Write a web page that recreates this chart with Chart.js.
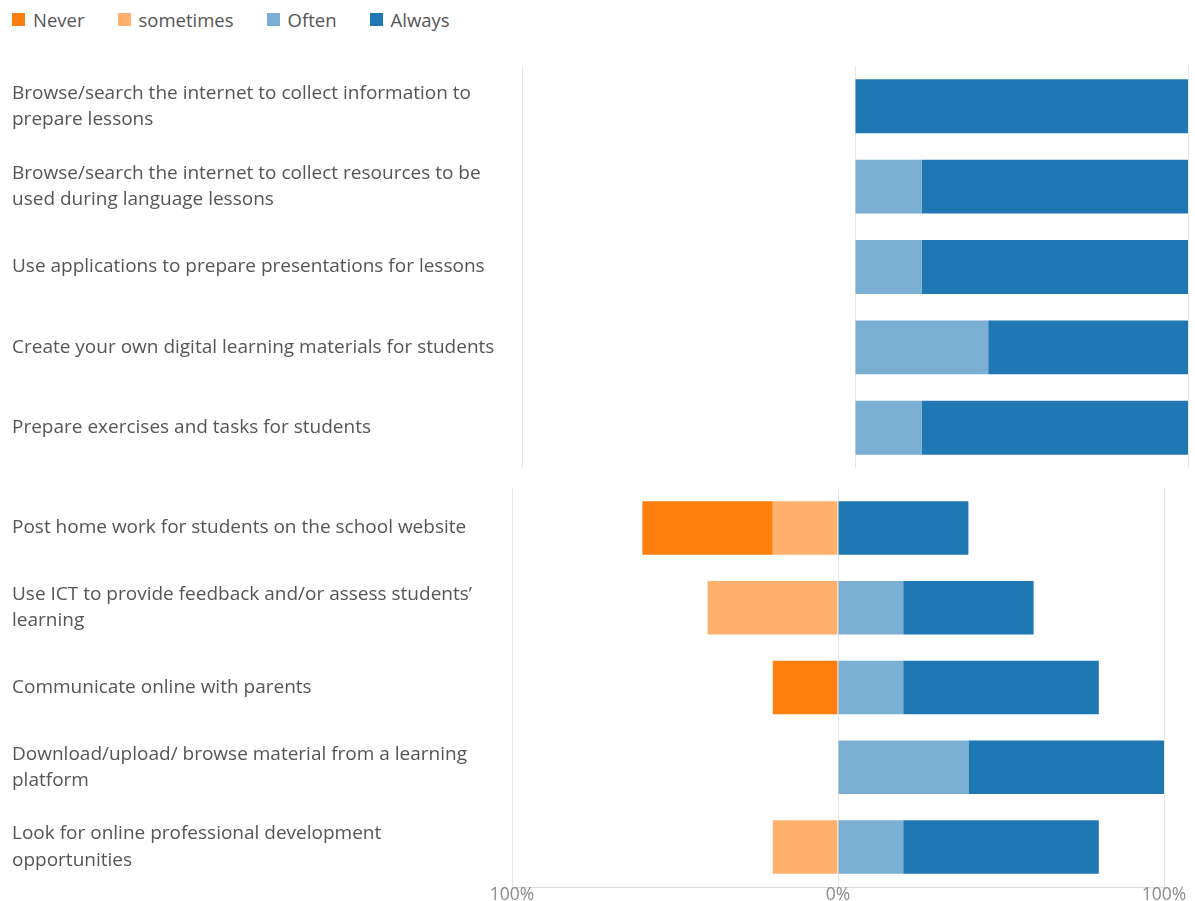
<!DOCTYPE html>
<html>
<head>
<meta charset="utf-8">
<script src="https://cdn.jsdelivr.net/npm/chart.js@4"></script>
<style>
    html, body { margin: 0; padding: 0; background: #fff; overflow: hidden; }
    body { width: 1195px; height: 901px; position: relative; font-family: "Open Sans", sans-serif; }
    #legend { position: absolute; left: 12px; top: 7px; display: flex; align-items: center; font-size: 18.5px; color: #555; }
    .legend-item { display: flex; align-items: center; margin-right: 33px; }
    .legend-box { width: 13px; height: 13px; margin-right: 8px; }
    .panel { position: absolute; left: 0; width: 1195px; }
    #top-panel { top: 0; height: 470px; }
    #bottom-panel { top: 478px; height: 426px; }
</style>
</head>
<body>
<div id="legend"></div>
<div class="panel" id="top-panel"><canvas id="topChart"></canvas></div>
<div class="panel" id="bottom-panel"><canvas id="bottomChart"></canvas></div>

<script>
// Answer categories and colours
const answers = ['Never', 'sometimes', 'Often', 'Always'];
const answerColors = ['#ff7f0e', '#ffb06c', '#7aaed3', '#1f77b4'];

// Activities: preparing lessons
const topLabels = [
    ['Browse/search the internet to collect information to', 'prepare lessons'],
    ['Browse/search the internet to collect resources to be', 'used during language lessons'],
    'Use applications to prepare presentations for lessons',
    'Create your own digital learning materials for students',
    'Prepare exercises and tasks for students'
];
const topNever     = [0, 0, 0, 0, 0];
const topSometimes = [0, 0, 0, 0, 0];
const topOften     = [0, 20, 20, 40, 20];
const topAlways    = [100, 80, 80, 60, 80];

// Activities: working with students and parents
const bottomLabels = [
    'Post home work for students on the school website',
    ['Use ICT to provide feedback and/or assess students\u2019', 'learning'],
    'Communicate online with parents',
    ['Download/upload/ browse material from a learning', 'platform'],
    ['Look for online professional development', 'opportunities']
];
const bottomNever     = [40, 0, 20, 0, 0];
const bottomSometimes = [20, 40, 0, 0, 20];
const bottomOften     = [0, 20, 20, 40, 20];
const bottomAlways    = [40, 40, 60, 60, 60];

const FONT = '"Open Sans", sans-serif';
const GRID = '#e6e6e6';

// Legend shared by both panels
const legendEl = document.getElementById('legend');
answers.forEach((name, i) => {
    const item = document.createElement('div');
    item.className = 'legend-item';
    item.innerHTML = `<span class="legend-box" style="background:${answerColors[i]}"></span>${name}`;
    legendEl.appendChild(item);
});

// Negative answers stack to the left of zero, "sometimes" nearest to it
function buildDatasets(never, sometimes, often, always) {
    const bar = (label, data, color) => ({
        label, data, backgroundColor: color, borderWidth: 0,
        barPercentage: 0.67, categoryPercentage: 1
    });
    return [
        bar('sometimes', sometimes.map(v => -v), answerColors[1]),
        bar('Never', never.map(v => -v), answerColors[0]),
        bar('Often', often, answerColors[2]),
        bar('Always', always, answerColors[3])
    ];
}

function makeChart(id, labels, datasets, opts) {
    return new Chart(document.getElementById(id), {
        type: 'bar',
        data: { labels, datasets },
        options: {
            indexAxis: 'y',
            responsive: true,
            maintainAspectRatio: false,
            animation: false,
            layout: { padding: opts.padding },
            plugins: { legend: { display: false }, tooltip: { enabled: false } },
            scales: {
                x: {
                    stacked: true,
                    min: -100, max: 100,
                    border: { display: opts.showAxis, color: '#dcdcdc' },
                    grid: { color: GRID, drawTicks: false },
                    afterFit: scale => { if (!opts.showAxis) scale.height = 0; },
                    ticks: {
                        display: opts.showAxis,
                        stepSize: 100,
                        padding: -2,
                        color: '#8a8a8a',
                        font: { family: FONT, size: 17.5 },
                        callback: v => Math.abs(v) + '%'
                    }
                },
                y: {
                    stacked: true,
                    border: { display: false },
                    grid: { display: false },
                    afterFit: scale => {
                        scale.width = opts.labelWidth;
                        scale.paddingTop = 0;
                        scale.paddingBottom = 0;
                    },
                    ticks: {
                        crossAlign: 'far',
                        color: '#555',
                        font: { family: FONT, size: 19, lineHeight: 1.37 }
                    }
                }
            }
        }
    });
}

makeChart('topChart', topLabels,
    buildDatasets(topNever, topSometimes, topOften, topAlways),
    { padding: { left: 12, right: 7, top: 66, bottom: 2 }, labelWidth: 510, showAxis: false });

makeChart('bottomChart', bottomLabels,
    buildDatasets(bottomNever, bottomSometimes, bottomOften, bottomAlways),
    { padding: { left: 12, right: 31, top: 10, bottom: 0 }, labelWidth: 500, showAxis: true });
</script>
</body>
</html>
